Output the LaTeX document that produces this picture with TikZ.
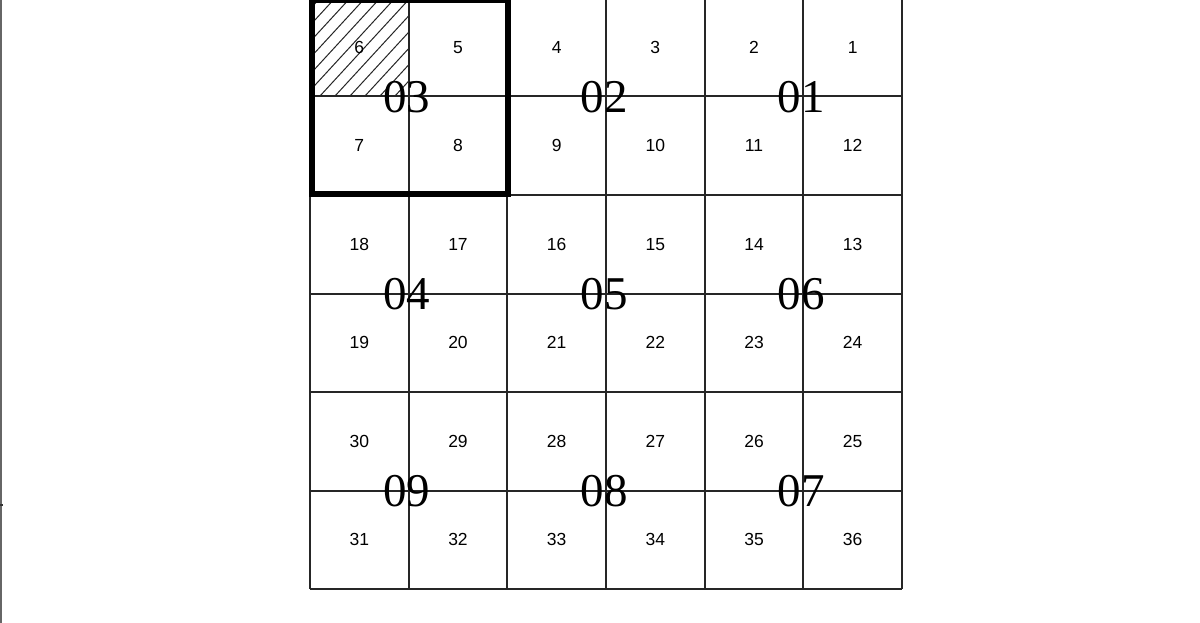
\documentclass[tikz,border=0pt]{standalone}
\usepackage{fontspec}
\setmainfont{Liberation Serif}
\newfontfamily\numfont{Liberation Sans}
\begin{document}
\begin{tikzpicture}[x=1pt,y=-1pt,
  gridline/.style={draw=black!85, line width=2pt},
  thickbox/.style={draw=black, line width=6pt},
  hatchline/.style={draw=black!85, line width=1pt},
  edgeline/.style={draw=black!60, line width=1.6pt},
  cellnum/.style={font=\numfont\fontsize{17.5}{17.5}\selectfont, inner sep=0pt, text=black},
  blocklabel/.style={font=\fontsize{47}{47}\selectfont, inner sep=0pt, text=black}]
\useasboundingbox (0,0) rectangle (1200,623);
\fill[white] (0,0) rectangle (1200,623);
% left edge line and tick
\draw[edgeline] (0.8,0) -- (0.8,623);
\coordinate (tickA) at (0,505);
\coordinate (tickB) at (3,505);
\draw[draw=black!80, line width=2pt] (tickA) -- (tickB);
% hatching of cell 6
\begin{scope}
  \clip (310,-2) rectangle (408,96);
  \foreach \k in {0,...,13} {
    \draw[hatchline] ({320+15*\k-90},96) -- ({320+15*\k+2},-4);
  }
\end{scope}
% grid
\foreach \i in {0,...,6} {
  \draw[gridline] ({310+98.667*\i},-2) -- ({310+98.667*\i},589);
  \draw[gridline] (310,{-2+98.5*\i}) -- (902,{-2+98.5*\i});
}
% thick box
\draw[thickbox] (311.5,0.5) rectangle (508,194);
% cell numbers
\foreach \n/\c/\r in {6/0/0,5/1/0,4/2/0,3/3/0,2/4/0,1/5/0,
                      7/0/1,8/1/1,9/2/1,10/3/1,11/4/1,12/5/1,
                      18/0/2,17/1/2,16/2/2,15/3/2,14/4/2,13/5/2,
                      19/0/3,20/1/3,21/2/3,22/3/3,23/4/3,24/5/3,
                      30/0/4,29/1/4,28/2/4,27/3/4,26/4/4,25/5/4,
                      31/0/5,32/1/5,33/2/5,34/3/5,35/4/5,36/5/5} {
  \node[cellnum] (cell\n) at ({310+98.667*\c+49.33},{-2+98.5*\r+49.25}) {\n};
}
% block labels
\foreach \l/\c/\r in {03/1/1,02/3/1,01/5/1,04/1/3,05/3/3,06/5/3,09/1/5,08/3/5,07/5/5} {
  \node[blocklabel] (block\l) at ({310+98.667*\c-2},{-2+98.5*\r+0.5}) {\l};
}
\end{tikzpicture}
\end{document}
